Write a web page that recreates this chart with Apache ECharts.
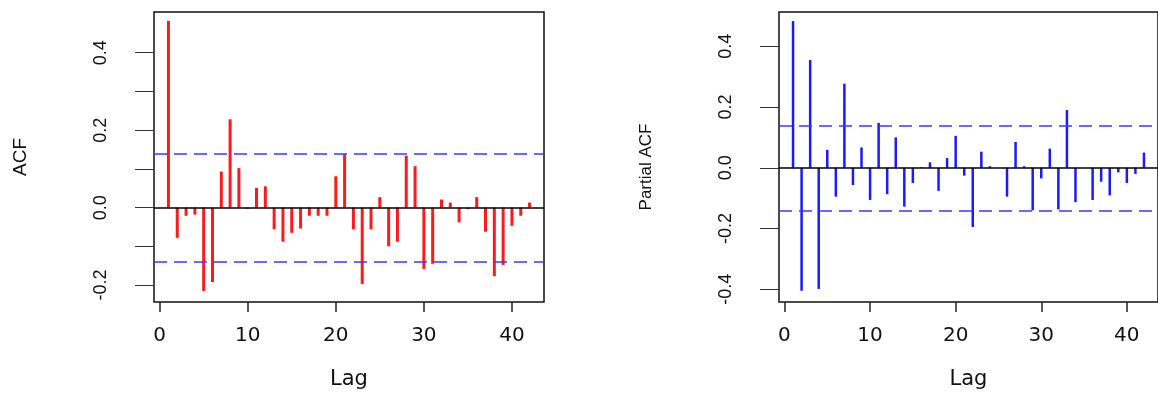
<!DOCTYPE html>
<html><head><meta charset="utf-8">
<script src="https://cdn.jsdelivr.net/npm/echarts@6/dist/echarts.min.js"></script>
<style>html,body{margin:0;padding:0;background:#fff}#c{width:1158px;height:395px}</style>
</head><body><div id="c"></div>
<script>
const lags = [1,2,3,4,5,6,7,8,9,10,11,12,13,14,15,16,17,18,19,20,21,22,23,24,25,26,27,28,29,30,31,32,33,34,35,36,37,38,39,40,41,42];
const acfValues = [0.482,-0.078,-0.021,-0.018,-0.215,-0.192,0.093,0.228,0.102,-0.003,
  0.051,0.055,-0.056,-0.088,-0.065,-0.054,-0.021,-0.021,-0.021,0.081,
  0.138,-0.056,-0.197,-0.056,0.027,-0.100,-0.088,0.134,0.107,-0.158,
  -0.145,0.021,0.013,-0.038,-0.004,0.027,-0.062,-0.177,-0.148,-0.047,
  -0.021,0.013];
const pacfValues = [0.483,-0.405,0.355,-0.399,0.059,-0.095,0.277,-0.057,0.067,-0.106,
  0.148,-0.087,0.100,-0.128,-0.050,0.002,0.018,-0.076,0.032,0.105,
  -0.026,-0.195,0.053,0.005,0.000,-0.095,0.085,0.005,-0.140,-0.035,
  0.063,-0.137,0.190,-0.113,0.000,-0.106,-0.046,-0.091,-0.015,-0.050,
  -0.020,0.050];
const ciBound = 0.14;
const xTicks = [0,10,20,30,40];
const acfYTicks = [-0.2,-0.1,0,0.1,0.2,0.3,0.4];
const acfYLabels = [-0.2,0,0.2,0.4];
const pacfYTicks = [-0.4,-0.2,0,0.2,0.4];
const xTitle = 'Lag';
const acfTitle = 'ACF';
const pacfTitle = 'Partial ACF';

const textColor = '#111';
function xAxisCfg(gi){
  return {
    type:'value', gridIndex:gi, min:-0.64, max:43.64,
    name:xTitle, nameLocation:'middle', nameGap:67,
    nameTextStyle:{fontFamily:'DejaVu Sans', fontSize:21, color:textColor},
    axisLine:{show:false, onZero:false}, splitLine:{show:false},
    axisTick:{show:true, customValues:xTicks, length:10, lineStyle:{color:'#222', width:1.5}},
    axisLabel:{customValues:xTicks, margin:24, fontFamily:'DejaVu Sans', fontSize:20, color:textColor}
  };
}
function yAxisCfg(gi, mn, mx, ticks, labels, title, nameGap, nameSize, namePad){
  return {
    type:'value', gridIndex:gi, min:mn, max:mx,
    name:title, nameLocation:'middle', nameRotate:90, nameGap:nameGap,
    nameTextStyle:{fontFamily:'Liberation Sans', fontSize:nameSize, color:textColor, padding:namePad},
    axisLine:{show:false, onZero:false}, splitLine:{show:false},
    axisTick:{show:true, customValues:ticks, length:19, lineStyle:{color:'#333', width:1}},
    axisLabel:{customValues:labels, rotate:90, margin:44, fontFamily:'Liberation Sans', fontSize:18, color:textColor,
      formatter:v=>Number(v).toFixed(1)}
  };
}
function refLines(){
  return {
    silent:true, symbol:['none','none'], label:{show:false}, animation:false,
    data:[
      {yAxis:0, lineStyle:{type:'solid', color:'#000', width:1.5}},
      {yAxis:ciBound, lineStyle:{type:[13,7], color:'#3a3aff', width:1.5}},
      {yAxis:-ciBound, lineStyle:{type:[13,7], color:'#3a3aff', width:1.5}}
    ]
  };
}
const chart = echarts.init(document.getElementById('c'));
chart.setOption({
  animation:false,
  backgroundColor:'#fff',
  grid:[
    {left:154, top:12, width:390, height:292, show:true, borderColor:'#111', borderWidth:1.5, backgroundColor:'transparent'},
    {left:779, top:12, width:391, height:292, show:true, borderColor:'#111', borderWidth:1.5, backgroundColor:'transparent'}
  ],
  xAxis:[xAxisCfg(0), xAxisCfg(1)],
  yAxis:[
    yAxisCfg(0, -0.2436, 0.505, acfYTicks, acfYLabels, acfTitle, 124, 19, [0,0,0,0]),
    yAxisCfg(1, -0.442, 0.513, pacfYTicks, pacfYTicks, pacfTitle, 124, 17, [0,20,0,0])
  ],
  series:[
    {type:'bar', xAxisIndex:0, yAxisIndex:0, barWidth:3, itemStyle:{color:'#ff1a1a'},
     data:lags.map((l,i)=>[l, acfValues[i]]), markLine:refLines()},
    {type:'bar', xAxisIndex:1, yAxisIndex:1, barWidth:2.5, itemStyle:{color:'#1a1aff'},
     data:lags.map((l,i)=>[l, pacfValues[i]]), markLine:refLines()}
  ]
});
</script></body></html>
